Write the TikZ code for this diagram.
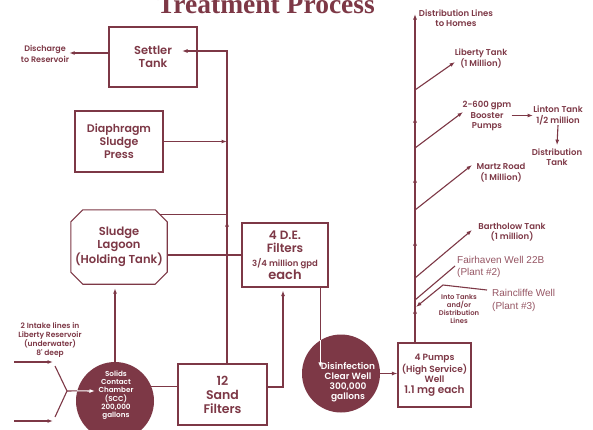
\documentclass[tikz,border=0pt]{standalone}
\usepackage{fontspec}
\setmainfont{Liberation Serif}
\newfontfamily\pop{Poppins}[BoldFont={Poppins SemiBold}]
\newfontfamily\lib{Liberation Sans}
\usetikzlibrary{arrows.meta,calc}
\definecolor{maroon}{RGB}{125,56,70}
\definecolor{lmaroon}{RGB}{150,86,100}
\begin{document}
\begin{tikzpicture}[x=1pt,y=-1pt,
  ln/.style={draw=maroon,line width=1.1pt},
  arr/.style={ln,-{Latex[length=5.5pt,width=4pt]}},
  warr/.style={draw=white,line width=1.1pt,-{Latex[length=5.5pt,width=4pt]}},
  box/.style={draw=maroon,line width=1.2pt,inner sep=0pt,align=center,text=maroon},
  lbl/.style={text=maroon,align=center,inner sep=0pt},
  wlbl/.style={text=white,align=center,inner sep=0pt},
  disk/.style={circle,fill=maroon,minimum size=78pt,inner sep=0pt}]
\useasboundingbox[fill=white] (0,0) rectangle (593,429);

% title
\node[lbl,anchor=base,font=\bfseries\fontsize{27.5}{30}\selectfont] (title) at (266,13) {Treatment Process};

% boxes
\node[box,minimum width=88pt,minimum height=60pt,font=\pop\bfseries\fontsize{11.5}{13}\selectfont] (settler) at (153,57) {Settler\\Tank};
\node[lbl,font=\pop\bfseries\fontsize{8}{10.5}\selectfont] (discharge) at (45,54) {Discharge\\to Reservoir};
\node[box,minimum width=88pt,minimum height=61pt,font=\pop\bfseries\fontsize{11}{13}\selectfont] (press) at (119,141.5) {Diaphragm\\Sludge\\Press};
\node[lbl,minimum width=96pt,minimum height=74pt,font=\pop\bfseries\fontsize{11.5}{13}\selectfont] (lagoon) at (119,247) {Sludge\\Lagoon\\(Holding Tank)};
\draw[ln] ([xshift=12pt]lagoon.north west) -- ([xshift=-12pt]lagoon.north east)
  -- ([yshift=-12pt]lagoon.north east) -- ([yshift=12pt]lagoon.south east)
  -- ([xshift=-12pt]lagoon.south east) -- ([xshift=12pt]lagoon.south west)
  -- ([yshift=12pt]lagoon.south west) -- ([yshift=-12pt]lagoon.north west) -- cycle;
\node[box,minimum width=86pt,minimum height=64pt,font=\pop\bfseries\fontsize{12}{13.5}\selectfont] (de) at (285,255) {4 D.E.\\Filters\\{\fontsize{8.5}{10}\selectfont 3/4 million gpd}\\{\fontsize{13}{14}\selectfont each}};
\node[box,minimum width=89pt,minimum height=61pt,font=\pop\bfseries\fontsize{12.5}{14}\selectfont] (sand) at (222.5,394.5) {12\\Sand\\Filters};
\node[box,minimum width=73pt,minimum height=64pt,font=\pop\bfseries\fontsize{9}{10.5}\selectfont] (pumps) at (434.5,375) {4 Pumps\\(High Service)\\Well\\{\fontsize{10.5}{11}\selectfont 1.1 mg each}};

% disks
\node[disk] (scc) at (115,401) {};
\node[wlbl,font=\pop\bfseries\fontsize{7.2}{8.3}\selectfont] (scctext) at (116,395) {Solids\\Contact\\Chamber\\(SCC)\\200,000\\gallons};
\node[disk] (dis) at (341,373.5) {};
\node[wlbl,font=\pop\bfseries\fontsize{9}{10}\selectfont] (distext) at (348,382) {Disinfection\\Clear Well\\300,000\\gallons};

% intake text
\node[lbl,font=\pop\bfseries\fontsize{7.5}{8.4}\selectfont] (intake) at (50,340) {2 Intake lines in\\Liberty Reservoir\\(underwater)\\8' deep};

% right labels
\tikzset{rl/.style={lbl,font=\pop\bfseries\fontsize{8.5}{10.5}\selectfont}}
\node[rl] (homes) at (456,18) {Distribution Lines\\to Homes};
\node[rl] (liberty) at (481,58.5) {Liberty Tank\\(1 Million)};
\node[rl] (booster) at (487,116) {2-600 gpm\\Booster\\Pumps};
\node[rl] (linton) at (558,115.5) {Linton Tank\\1/2 million};
\node[rl] (disttank) at (557,157) {Distribution\\Tank};
\node[rl] (martz) at (501,172.5) {Martz Road\\(1 Million)};
\node[rl] (barth) at (512,232) {Bartholow Tank\\(1 million)};
\node[lbl,anchor=west,text=lmaroon,align=left,font=\lib\fontsize{10}{12}\selectfont] (fair) at (457,267) {Fairhaven Well 22B\\(Plant \#2)};
\node[lbl,anchor=west,text=lmaroon,align=left,font=\lib\fontsize{10}{13}\selectfont] (rain) at (492,300.5) {Raincliffe Well\\(Plant \#3)};
\node[lbl,font=\pop\bfseries\fontsize{6.8}{8}\selectfont] (into) at (459,309) {Into Tanks\\and/or\\Distribution\\Lines};

% left network
\coordinate (j1) at (227,51);
\coordinate (settin) at (182,51);
\coordinate (lagtop) at ($(lagoon.north east)+(-7,5)$);
\draw[arr] ([yshift=4pt]settler.west) -- ([yshift=4pt]settler.west -| discharge.east);
\draw[arr] (sand.north -| j1) -- (j1) -- (settin);
\draw[arr] (press.east) -- (press.east -| j1);
\draw[arr,shorten >=4pt] (scc.north) -- (scc.north |- lagoon.south);
\draw[ln] (lagtop) -- (lagtop -| j1);
\draw[arr] (227,230) -- (227,221);
\draw[ln] (de.west -| lagoon.east) -- (de.west);
\draw[ln] (scc.22.6) -- (scc.22.6 -| sand.west);
\coordinate (deup) at ($(de.south)+(-2,0)$);
\draw[arr,shorten >=3pt] ([yshift=7.5pt]sand.east) -| (deup);
\draw[ln] (de.south -| dis.122.6) -- (dis.122.6);
\draw[warr] (dis.122.6) -- ++(0,27.5);
\draw[arr] (dis.east) -- (dis.east -| pumps.west);

% intakes
\coordinate (i1s) at (14,362); \coordinate (i1e) at (53,362);
\coordinate (i2s) at (14,421); \coordinate (i2e) at (53,421);
\coordinate (fork) at (67,391);
\draw[arr] (i1s) -- (i1e);
\draw[arr] (i2s) -- (i2e);
\draw[ln] (55,366) -- (fork) -- (55,417);
\draw[ln] (fork) -- (scc.165);
\draw[warr] (scc.165) -- (95,391);

% trunk
\coordinate (top) at (415,14);
\draw[arr] (pumps.north -| top) -- (top);
\foreach \y in {117,177,240,308} \draw[arr] (415,\y+7) -- (415,\y);
\coordinate (b1) at (415,90);  \coordinate (t1) at (455,62);
\coordinate (b2) at (415,148); \coordinate (t2) at (463,112);
\coordinate (b3) at (415,210); \coordinate (t3) at (472,165);
\coordinate (b4) at (415,278); \coordinate (t4) at (472,230);
\coordinate (b5) at (415,300); \coordinate (t5) at (455,266);
\coordinate (r1) at (487,290); \coordinate (r2) at (443,285); \coordinate (r3) at (416,307);
\draw[arr] (b1) -- (t1);
\draw[arr] (b2) -- (t2);
\draw[arr] (b3) -- (t3);
\draw[arr] (b4) -- (t4);
\draw[ln] (b5) -- (t5);
\draw[arr] (r1) -- (r2) -- (r3);
\draw[arr] (booster.east |- linton.west) -- (linton.west);
\draw[arr] (linton.south) -- ([yshift=3pt]disttank.north);
\end{tikzpicture}
\end{document}
